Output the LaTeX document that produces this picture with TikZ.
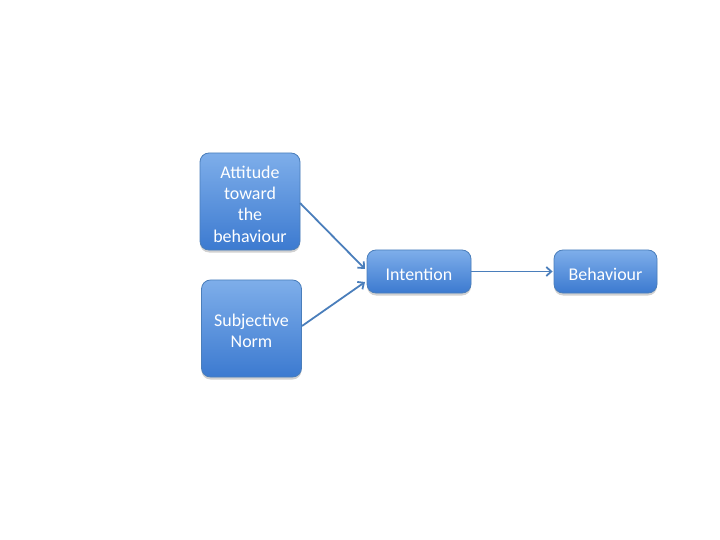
\documentclass[tikz,border=0pt]{standalone}
\usepackage{fontspec}
\setmainfont{Carlito}
\usetikzlibrary{arrows.meta,shadows}
\definecolor{boxtop}{HTML}{7EAEEA}
\definecolor{boxbot}{HTML}{3C7AD0}
\definecolor{boxline}{HTML}{4A7EBB}
\definecolor{arrowc}{HTML}{4A7EBB}
\tikzset{
  box/.style={draw=boxline, line width=0.8bp, rounded corners=9bp, top color=boxtop, bottom color=boxbot,
    inner sep=0pt,
    drop shadow={shadow xshift=0bp, shadow yshift=-2.5bp, opacity=0.3, fill=black!60}},
  boxtext/.style={text=white, font=\fontsize{18}{21.5}\selectfont, align=center, inner sep=0pt, yshift=-2.5bp},
  conn/.style={draw=arrowc, line width=1.8bp, -{Straight Barb[length=5bp,width=9bp]}}
}
\begin{document}
\begin{tikzpicture}[x=1bp,y=-1bp]
\useasboundingbox (0,0) rectangle (720,540);
\node[box, minimum width=100bp, minimum height=97bp,
  label={[boxtext]center:{Attitude\\toward\\the\\behaviour}}] (att) at (250,201.5) {};
\node[box, minimum width=100bp, minimum height=97bp,
  label={[boxtext]center:{Subjective\\Norm}}] (sub) at (251.5,328.5) {};
\node[box, minimum width=104bp, minimum height=43bp,
  label={[boxtext]center:{Intention}}] (int) at (419,271.5) {};
\node[box, minimum width=103bp, minimum height=43bp,
  label={[boxtext]center:{Behaviour}}] (beh) at (605.5,271.5) {};
\coordinate (a1) at (300,203);
\coordinate (a2) at (365,269);
\coordinate (s1) at (302,326);
\coordinate (s2) at (365,282);
\draw[conn] (a1) -- (a2);
\draw[conn] (s1) -- (s2);
\draw[conn] (int.east) -- ([xshift=-1bp]beh.west);
\end{tikzpicture}
\end{document}
